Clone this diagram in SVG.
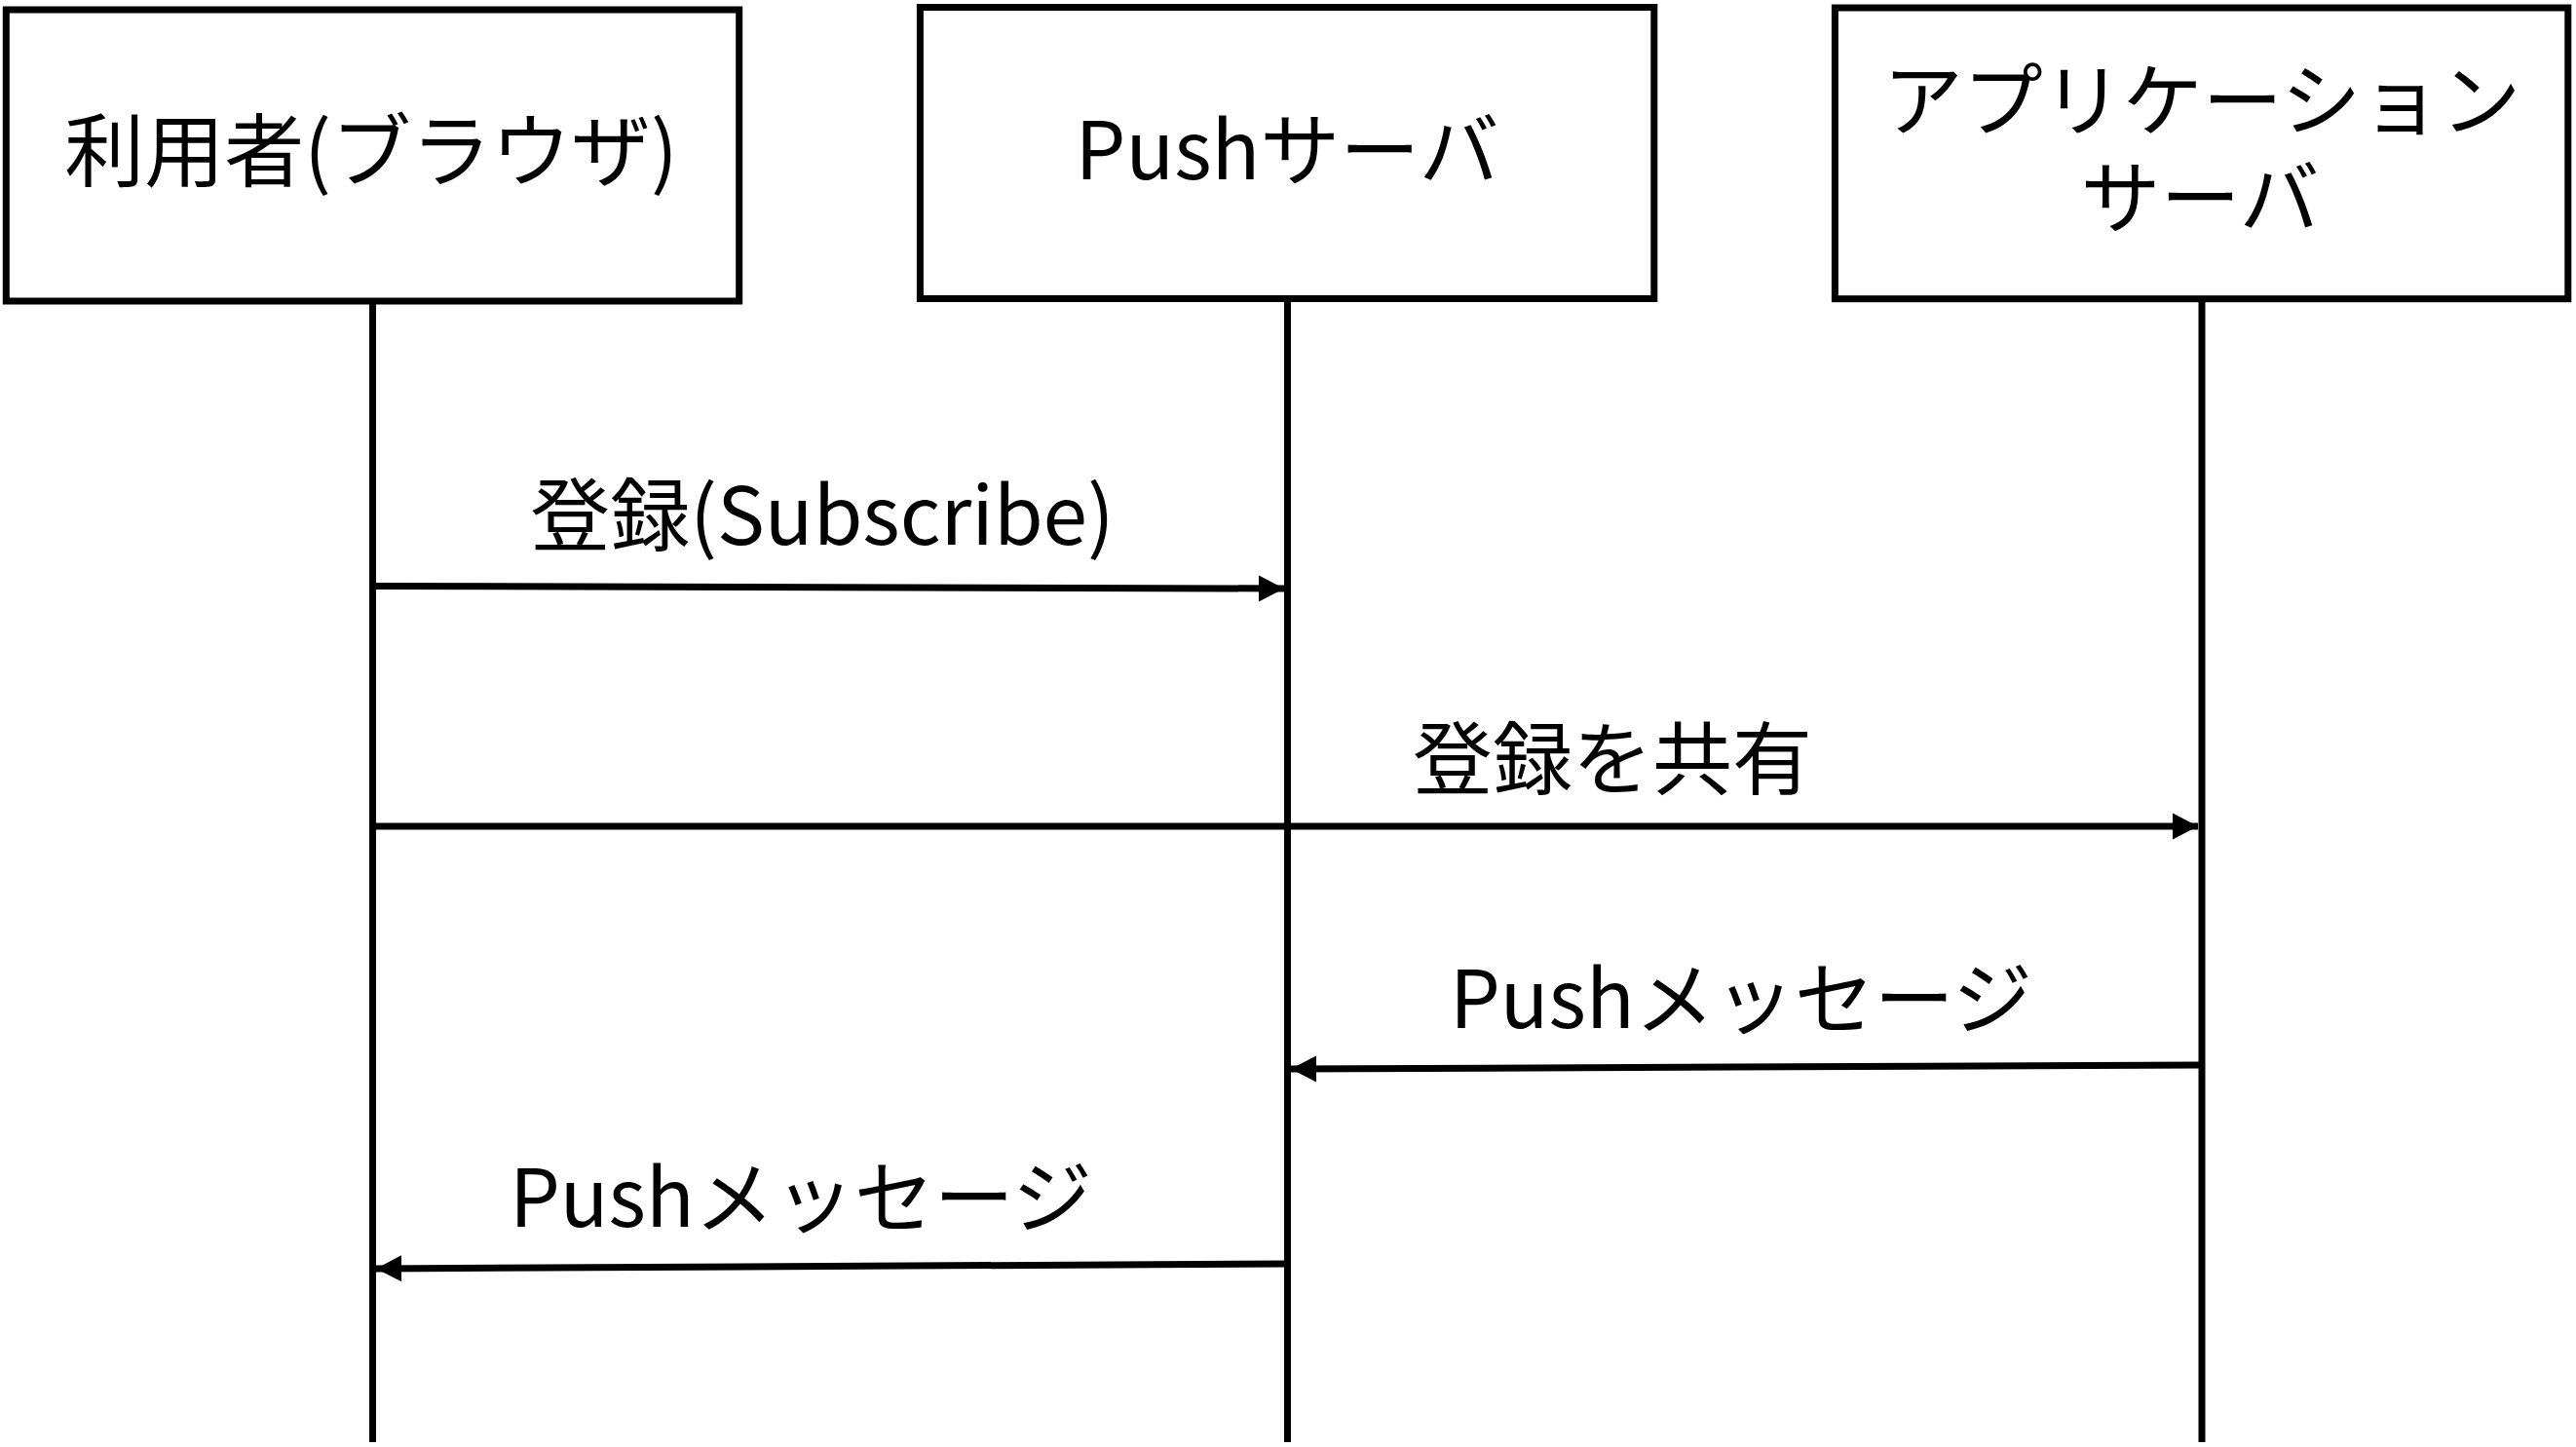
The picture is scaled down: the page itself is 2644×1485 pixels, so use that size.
<svg xmlns="http://www.w3.org/2000/svg" width="2644" height="1485" viewBox="0 0 2644 1485">
<style>
.box{fill:#fff;stroke:#000;stroke-width:7}
.life{stroke:#000;stroke-width:7;fill:none}
.msg{stroke:#000;stroke-width:7;fill:none;marker-end:url(#ah)}
text{font-family:"Noto Sans CJK JP","Noto Sans",sans-serif;font-size:82px;font-weight:400;fill:#000;text-anchor:middle}
</style>
<defs>
<marker id="ah" markerUnits="userSpaceOnUse" markerWidth="32" markerHeight="32" viewBox="0 0 32 32" refX="27" refY="16" orient="auto">
<path d="M1,2.5 L27,16 L1,29.5 Z" fill="#000"/>
</marker>
</defs>
<rect width="2644" height="1485" fill="#fff"/>
<g id="lifelines">
<line class="life" x1="382.5" y1="308" x2="382.5" y2="1480"/>
<line class="life" x1="1321.5" y1="307" x2="1321.5" y2="1480"/>
<line class="life" x1="2260" y1="307" x2="2260" y2="1480"/>
</g>
<g id="user">
<rect class="box" x="6.3" y="10" width="752.4" height="299"/>
<text x="381" y="185">利用者(ブラウザ)</text>
</g>
<g id="push-server">
<rect class="box" x="944.4" y="7.5" width="753.4" height="299"/>
<text x="1321" y="184">Pushサーバ</text>
</g>
<g id="app-server">
<rect class="box" x="1883.4" y="8" width="752.4" height="298.7"/>
<text x="2260" y="133">アプリケーション</text>
<text x="2258" y="233">サーバ</text>
</g>
<g id="connectors">
<line class="msg" x1="383" y1="601.5" x2="1318" y2="604"/>
<line class="msg" x1="383" y1="848" x2="2256" y2="848"/>
<line class="msg" x1="2260" y1="1093" x2="1325" y2="1097"/>
<line class="msg" x1="1321" y1="1297" x2="386" y2="1302"/>
</g>
<g id="labels">
<text x="844" y="559">登録(Subscribe)</text>
<text x="1655" y="809">登録を共有</text>
<text x="1787" y="1055">Pushメッセージ</text>
<text x="822" y="1259">Pushメッセージ</text>
</g>
</svg>
